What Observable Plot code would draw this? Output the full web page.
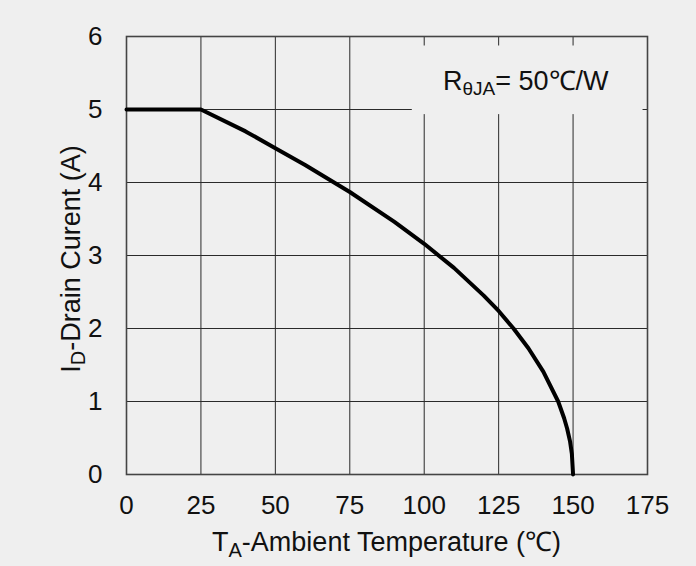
<!DOCTYPE html>
<html>
<head>
<meta charset="utf-8">
<script src="https://cdn.jsdelivr.net/npm/d3@7"></script>
<script src="https://cdn.jsdelivr.net/npm/@observablehq/plot@0.6"></script>
<style>
  html, body { margin: 0; padding: 0; background: #efefef; }
  #chart svg { display: block; }
</style>
</head>
<body>
<div id="chart"></div>
<script>
// Data
const ambientTemp = [0, 25, 40, 50, 60, 75, 90, 100, 110, 120, 125, 130, 135, 140, 145, 147, 148, 149, 149.6, 150];
const drainCurrent = [5, 5, 4.70, 4.47, 4.24, 3.87, 3.46, 3.16, 2.83, 2.45, 2.24, 2.00, 1.73, 1.41, 1.00, 0.77, 0.63, 0.45, 0.28, 0];
const xTicks = [0, 25, 50, 75, 100, 125, 150, 175];
const yTicks = [0, 1, 2, 3, 4, 5, 6];
const noteBox = [{x1: 96, x2: 173.5, y1: 4.93, y2: 5.87}];

const data = ambientTemp.map((t, i) => ({t, i: drainCurrent[i]}));
const bg = "#efefef";
const font = "'Liberation Sans', Arial, sans-serif";

const plot = Plot.plot({
  width: 696,
  height: 566,
  marginLeft: 126,
  marginRight: 49,
  marginTop: 36,
  marginBottom: 92,
  style: {background: bg, fontFamily: font, color: "#111"},
  x: {domain: [0, 175], ticks: xTicks},
  y: {domain: [0, 6], ticks: yTicks},
  marks: [
    Plot.gridX(xTicks, {stroke: "#2a2a2a", strokeOpacity: 1, strokeWidth: 1}),
    Plot.gridY(yTicks, {stroke: "#2a2a2a", strokeOpacity: 1, strokeWidth: 1}),
    Plot.rect(noteBox, {x1: "x1", x2: "x2", y1: "y1", y2: "y2", fill: bg}),
    Plot.frame({stroke: "#444", strokeWidth: 1.6}),
    Plot.axisX({ticks: xTicks, tickSize: 0, tickPadding: 21, fontSize: 26, tickFormat: "d", label: null}),
    Plot.axisY({ticks: yTicks, tickSize: 0, tickPadding: 24, fontSize: 26, tickFormat: "d", label: null}),
    Plot.line(data, {x: "t", y: "i", stroke: "#000", strokeWidth: 4, strokeLinejoin: "round"})
  ]
});

const svg = d3.select(plot);
const xs = plot.scale("x"), ys = plot.scale("y");

// X axis label with subscript
const xl = svg.append("text")
  .attr("x", (xs.apply(0) + xs.apply(175)) / 2)
  .attr("y", 551)
  .attr("text-anchor", "middle")
  .attr("font-family", font)
  .attr("font-size", 27)
  .attr("fill", "#111");
xl.append("tspan").text("T");
xl.append("tspan").attr("font-size", 20).attr("dy", 6).text("A");
xl.append("tspan").attr("dy", -6).text("-Ambient Temperature (℃)");

// Y axis label with subscript
const yl = svg.append("text")
  .attr("transform", `translate(80,${(ys.apply(0) + ys.apply(6)) / 2 + 4}) rotate(-90)`)
  .attr("text-anchor", "middle")
  .attr("font-family", font)
  .attr("font-size", 27)
  .attr("fill", "#111");
yl.append("tspan").text("I");
yl.append("tspan").attr("font-size", 20).attr("dy", 5).text("D");
yl.append("tspan").attr("dy", -5).text("-Drain Curent (A)");

// Annotation
const an = svg.append("text")
  .attr("x", 443)
  .attr("y", 90)
  .attr("text-anchor", "start")
  .attr("font-family", font)
  .attr("font-size", 27)
  .attr("fill", "#111");
an.append("tspan").text("R");
an.append("tspan").attr("font-size", 19).attr("dy", 5).text("θJA");
an.append("tspan").attr("dy", -5).text("= 50℃/W");

document.getElementById("chart").append(plot);
</script>
</body>
</html>
